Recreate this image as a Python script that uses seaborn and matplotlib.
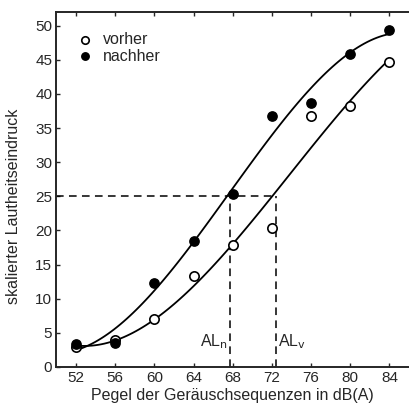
import numpy as np
import pandas as pd
import seaborn as sns
import matplotlib.pyplot as plt

# Pegel in dB(A)
pegel = [52, 56, 60, 64, 68, 72, 76, 80, 84]
# skalierter Lautheitseindruck
vorher = [2.9, 4.0, 7.0, 13.3, 17.8, 20.3, 36.7, 38.3, 44.7]
nachher = [3.4, 3.5, 12.3, 18.4, 25.4, 36.7, 38.7, 45.8, 49.3]

ref_level = 25
al_n = 67.7
al_v = 72.4

xticks = [52, 56, 60, 64, 68, 72, 76, 80, 84]
yticks = [0, 5, 10, 15, 20, 25, 30, 35, 40, 45, 50]


def main():
    sns.set_style("ticks")
    plt.rcParams['font.family'] = ['Liberation Sans', 'DejaVu Sans']

    df = pd.DataFrame({"pegel": pegel, "vorher": vorher, "nachher": nachher})

    fig = plt.figure(figsize=(4.09, 4.08), dpi=100)
    ax = fig.add_axes([0.138, 0.1005, 0.862, 0.87])

    # fitted curves
    for col in ["vorher", "nachher"]:
        sns.regplot(ax=ax, data=df, x="pegel", y=col, order=3, ci=None,
                    scatter=False, color="black", line_kws={"lw": 1.3})

    sns.scatterplot(ax=ax, data=df, x="pegel", y="vorher", marker="o",
                    s=45, facecolor="white", edgecolor="black", linewidth=1.2,
                    label="vorher", zorder=3)
    sns.scatterplot(ax=ax, data=df, x="pegel", y="nachher", marker="o",
                    s=45, color="black", edgecolor="black", linewidth=1.0,
                    label="nachher", zorder=4)

    dash = (0, (5, 3.5))
    ax.plot([50, al_v], [ref_level, ref_level], color="black", lw=1.1, linestyle=dash)
    ax.plot([al_n, al_n], [0, ref_level], color="black", lw=1.1, linestyle=dash)
    ax.plot([al_v, al_v], [0, ref_level], color="black", lw=1.1, linestyle=dash)
    ax.text(al_n - 0.2, 3.7, r"AL$_\mathrm{n}$", ha="right", va="center", fontsize=11.5)
    ax.text(al_v + 0.2, 3.7, r"AL$_\mathrm{v}$", ha="left", va="center", fontsize=11.5)

    ax.set_xlim(50, 86)
    ax.set_ylim(0, 52)
    ax.set_xticks(xticks)
    ax.set_yticks(yticks)
    ax.tick_params(direction="in", length=3, width=1, labelsize=11, top=True,
                   pad=3)
    for side in ["left", "bottom", "top"]:
        ax.spines[side].set_linewidth(1.4)
    ax.spines["right"].set_visible(False)

    ax.set_xlabel("Pegel der Geräuschsequenzen in dB(A)", fontsize=11.5, labelpad=2)
    ax.set_ylabel("skalierter Lautheitseindruck", fontsize=11.5)
    ax.yaxis.set_label_coords(-0.10, 0.453)

    ax.legend(loc="upper left", frameon=False, fontsize=11.5, handletextpad=0.1,
              labelspacing=0.1, borderaxespad=0.3, markerscale=0.8,
              bbox_to_anchor=(0.005, 0.975))

    plt.savefig("out.png", dpi=100)
    return


if __name__ == "__main__":
    main()
